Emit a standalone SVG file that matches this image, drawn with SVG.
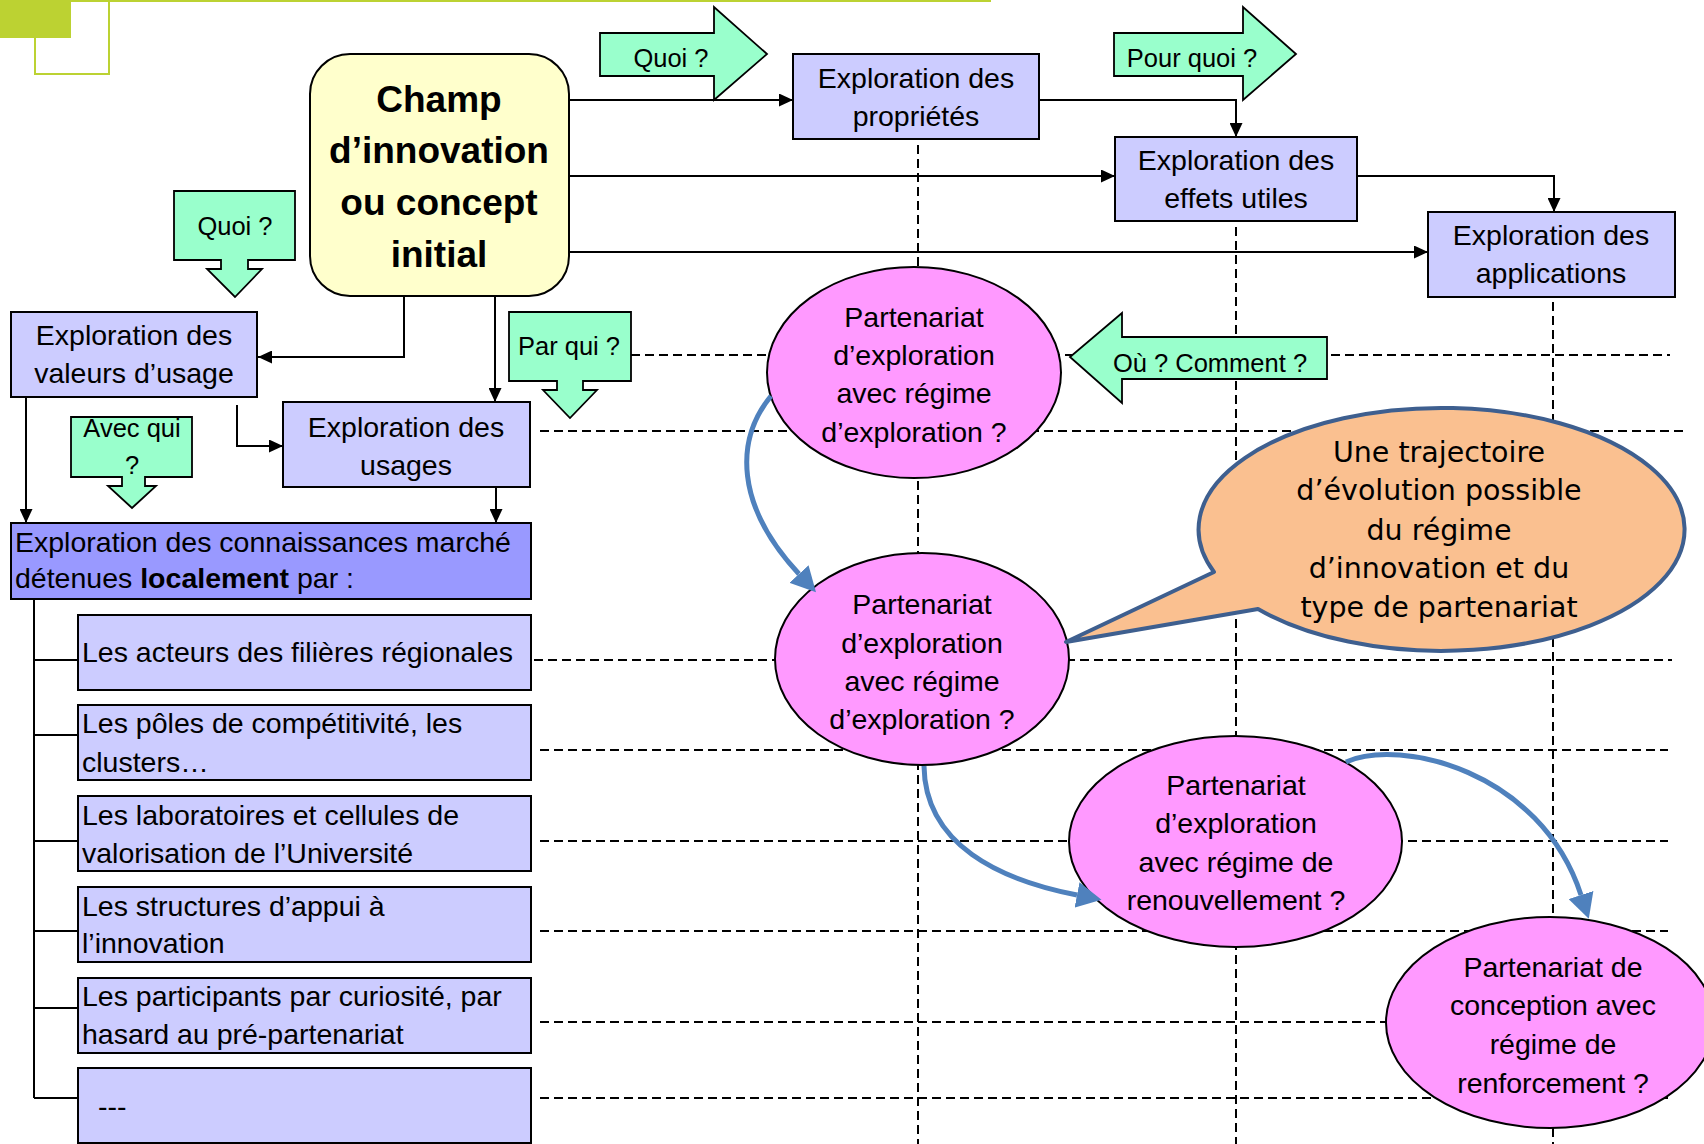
<svg xmlns="http://www.w3.org/2000/svg" width="1704" height="1144" viewBox="0 0 1704 1144">
<style>
.box{fill:#CCCCFF;stroke:#000;stroke-width:2}
.dark{fill:#9999FF;stroke:#000;stroke-width:2}
.ell{fill:#FF99FF;stroke:#000;stroke-width:2}
.call{fill:#99FFCC;stroke:#000;stroke-width:1.8}
.t{font-family:"Liberation Sans",Arial,sans-serif;font-size:28.5px;fill:#000}
.m{text-anchor:middle}
.ct{font-size:25.5px}
.big{font-size:37px;font-weight:bold}
.bt{font-family:"DejaVu Sans",Verdana,sans-serif;font-size:28.5px;text-anchor:middle;fill:#000}
.dash{stroke:#000;stroke-width:2;stroke-dasharray:9 5;fill:none}
.con{stroke:#000;stroke-width:2;fill:none}
.blue{stroke:#4F81BD;stroke-width:5;fill:none}
</style>
<defs>
<marker id="ah" markerUnits="userSpaceOnUse" markerWidth="14" markerHeight="13" refX="14" refY="6.5" orient="auto">
<path d="M0,0 L14,6.5 L0,13 Z" fill="#000"/>
</marker>
<marker id="bh" markerUnits="userSpaceOnUse" markerWidth="25" markerHeight="26" refX="0" refY="13" orient="auto">
<path d="M0,0 L25,13 L0,26 Z" fill="#4F81BD"/>
</marker>
</defs>
<rect width="1704" height="1144" fill="#fff"/>
<g id="decoration">
<rect x="0" y="0" width="991" height="2" fill="#BCD232"/>
<rect x="0" y="0" width="71" height="38" fill="#BCD232"/>
<rect x="35" y="0" width="74" height="74" fill="none" stroke="#BCD232" stroke-width="2"/>
</g>
<g id="grid">
<path class="dash" d="M631,355 H1670 M540,431 H1683 M534,660 H1672 M540,750 H1668 M540,841 H1668 M540,931 H1668 M540,1022 H1668 M540,1098 H1668"/>
<path class="dash" d="M918,145 V1144 M1236,227 V1144 M1553,302 V1144"/>
</g>
<g id="connectors">
<path class="con" d="M569,100 H793" marker-end="url(#ah)"/>
<path class="con" d="M569,176 H1115" marker-end="url(#ah)"/>
<path class="con" d="M569,252 H1428" marker-end="url(#ah)"/>
<path class="con" d="M1039,100 H1236 V137" marker-end="url(#ah)"/>
<path class="con" d="M1357,176 H1554 V212" marker-end="url(#ah)"/>
<path class="con" d="M404,296 V357 H258" marker-end="url(#ah)"/>
<path class="con" d="M495,296 V402" marker-end="url(#ah)"/>
<path class="con" d="M237,405 V446 H283" marker-end="url(#ah)"/>
<path class="con" d="M26,397 V523" marker-end="url(#ah)"/>
<path class="con" d="M496,487 V523" marker-end="url(#ah)"/>
<path class="con" d="M34,599 V1098 M34,660 H78 M34,735 H78 M34,841 H78 M34,931 H78 M34,1008 H78 M34,1098 H78"/>
</g>
<g id="champ">
<rect x="310" y="54" width="259" height="242" rx="40" ry="40" fill="#FFFFCC" stroke="#000" stroke-width="2"/>
<text class="t m big" x="439" y="112">Champ</text>
<text class="t m big" x="439" y="163">d’innovation</text>
<text class="t m big" x="439" y="215">ou concept</text>
<text class="t m big" x="439" y="267">initial</text>
</g>
<g id="proprietes">
<rect class="box" x="793" y="54" width="246" height="85"/>
<text class="t m" x="916" y="88">Exploration des</text>
<text class="t m" x="916" y="126">propriétés</text>
</g>
<g id="effets">
<rect class="box" x="1115" y="137" width="242" height="84"/>
<text class="t m" x="1236" y="170">Exploration des</text>
<text class="t m" x="1236" y="208">effets utiles</text>
</g>
<g id="applications">
<rect class="box" x="1428" y="212" width="247" height="85"/>
<text class="t m" x="1551" y="245">Exploration des</text>
<text class="t m" x="1551" y="283">applications</text>
</g>
<g id="valeurs">
<rect class="box" x="11" y="312" width="246" height="85"/>
<text class="t m" x="134" y="345">Exploration des</text>
<text class="t m" x="134" y="383">valeurs d’usage</text>
</g>
<g id="usages">
<rect class="box" x="283" y="402" width="247" height="85"/>
<text class="t m" x="406" y="437">Exploration des</text>
<text class="t m" x="406" y="475">usages</text>
</g>
<g id="connaissances">
<rect class="dark" x="11" y="523" width="520" height="76"/>
<text class="t" x="15" y="552">Exploration des connaissances marché</text>
<text class="t" x="15" y="588">détenues <tspan font-weight="bold">localement</tspan> par :</text>
</g>
<g id="acteurs">
<rect class="box" x="78" y="615" width="453" height="75"/>
<text class="t" x="82" y="662">Les acteurs des filières régionales</text>
</g>
<g id="poles">
<rect class="box" x="78" y="705" width="453" height="75"/>
<text class="t" x="82" y="733">Les pôles de compétitivité, les</text>
<text class="t" x="82" y="772">clusters…</text>
</g>
<g id="laboratoires">
<rect class="box" x="78" y="796" width="453" height="75"/>
<text class="t" x="82" y="825">Les laboratoires et cellules de</text>
<text class="t" x="82" y="863">valorisation de l’Université</text>
</g>
<g id="structures">
<rect class="box" x="78" y="887" width="453" height="75"/>
<text class="t" x="82" y="916">Les structures d’appui à</text>
<text class="t" x="82" y="953">l’innovation</text>
</g>
<g id="participants">
<rect class="box" x="78" y="978" width="453" height="75"/>
<text class="t" x="82" y="1006">Les participants par curiosité, par</text>
<text class="t" x="82" y="1044">hasard au pré-partenariat</text>
</g>
<g id="autres">
<rect class="box" x="78" y="1068" width="453" height="75"/>
<text class="t" x="98" y="1116">---</text>
</g>
<g id="q-quoi-right">
<polygon class="call" points="600,33 714,33 714,7 767,54 714,100 714,76 600,76"/>
<text class="t ct m" x="671" y="67">Quoi ?</text>
</g>
<g id="q-pourquoi">
<polygon class="call" points="1114,33 1243,33 1243,7 1296,54 1243,100 1243,76 1114,76"/>
<text class="t ct m" x="1192" y="67">Pour quoi ?</text>
</g>
<g id="q-quoi-down">
<polygon class="call" points="174,191 295,191 295,260 248,260 248,269 262,269 235,297 207,269 221,269 221,260 174,260"/>
<text class="t ct m" x="235" y="235">Quoi ?</text>
</g>
<g id="q-parqui">
<polygon class="call" points="509,312 631,312 631,381 583,381 583,390 597,390 570,418 543,390 557,390 557,381 509,381"/>
<text class="t ct m" x="569" y="355">Par qui ?</text>
</g>
<g id="q-avecqui">
<polygon class="call" points="71,417 192,417 192,477 145,477 145,486 156,486 132,508 108,486 122,486 122,477 71,477"/>
<text class="t ct m" x="132" y="437">Avec qui</text>
<text class="t ct m" x="132" y="474">?</text>
</g>
<g id="q-ou">
<polygon class="call" points="1327,337 1122,337 1122,313 1070,357 1122,403 1122,379 1327,379"/>
<text class="t ct m" x="1210" y="372">Où ? Comment ?</text>
</g>
<g id="partenariat1">
<ellipse class="ell" cx="914" cy="372.5" rx="147" ry="105.5"/>
<text class="t m" x="914" y="327">Partenariat</text>
<text class="t m" x="914" y="365">d’exploration</text>
<text class="t m" x="914" y="403">avec régime</text>
<text class="t m" x="914" y="442">d’exploration ?</text>
</g>
<g id="partenariat2">
<ellipse class="ell" cx="922" cy="659" rx="147" ry="106"/>
<text class="t m" x="922" y="614">Partenariat</text>
<text class="t m" x="922" y="653">d’exploration</text>
<text class="t m" x="922" y="691">avec régime</text>
<text class="t m" x="922" y="729">d’exploration ?</text>
</g>
<g id="partenariat3">
<ellipse class="ell" cx="1235.5" cy="841.5" rx="166.5" ry="105.5"/>
<text class="t m" x="1236" y="795">Partenariat</text>
<text class="t m" x="1236" y="833">d’exploration</text>
<text class="t m" x="1236" y="872">avec régime de</text>
<text class="t m" x="1236" y="910">renouvellement ?</text>
</g>
<g id="partenariat4">
<ellipse class="ell" cx="1550" cy="1022.5" rx="164" ry="105.5"/>
<text class="t m" x="1553" y="977">Partenariat de</text>
<text class="t m" x="1553" y="1015">conception avec</text>
<text class="t m" x="1553" y="1054">régime de</text>
<text class="t m" x="1553" y="1093">renforcement ?</text>
</g>
<g id="bulle">
<path d="M1214,572 L1066,642 L1258,609 A243,121.5 0 1 0 1214,572 Z" fill="#FAC090" stroke="#3E5F8F" stroke-width="4" stroke-linejoin="round"/>
<text class="bt" x="1439" y="462">Une trajectoire</text>
<text class="bt" x="1439" y="500">d’évolution possible</text>
<text class="bt" x="1439" y="540">du régime</text>
<text class="bt" x="1439" y="578">d’innovation et du</text>
<text class="bt" x="1439" y="617">type de partenariat</text>
</g>
<g id="trajectoire">
<path class="blue" d="M771,396 C735,440 735,505 799,574" marker-end="url(#bh)"/>
<path class="blue" d="M924,766 C925,845 1000,880 1077,895" marker-end="url(#bh)"/>
<path class="blue" d="M1346,762 C1400,738 1540,770 1581,895" marker-end="url(#bh)"/>
</g>
</svg>
